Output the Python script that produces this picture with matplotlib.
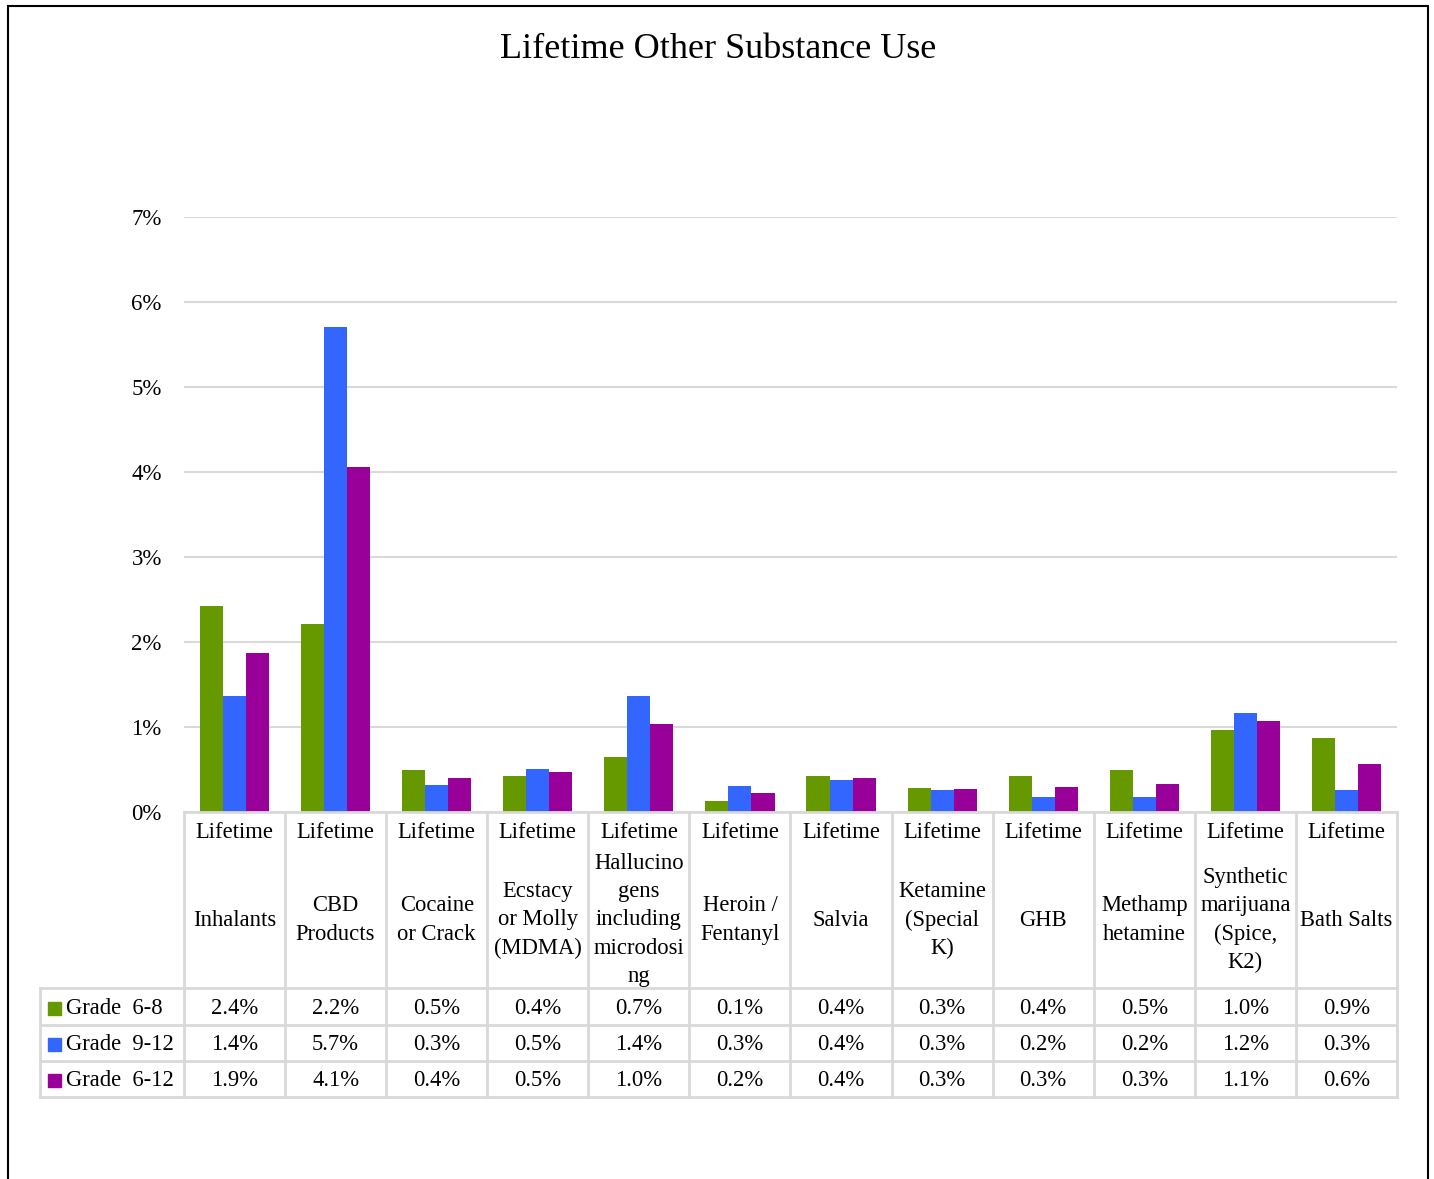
import matplotlib
matplotlib.use("Agg")
import matplotlib.pyplot as plt
from matplotlib.patches import Rectangle

plt.rcParams['font.family'] = ['Liberation Serif', 'DejaVu Serif']

title = "Lifetime Other Substance Use"
level1 = ["Lifetime"] * 12
categories = ["Inhalants", "CBD\nProducts", "Cocaine\nor Crack", "Ecstacy\nor Molly\n(MDMA)",
              "Hallucino\ngens\nincluding\nmicrodosi\nng", "Heroin /\nFentanyl", "Salvia",
              "Ketamine\n(Special\nK)", "GHB", "Methamp\nhetamine",
              "Synthetic\nmarijuana\n(Spice,\nK2)", "Bath Salts"]
series_names = ["Grade  6-8", "Grade  9-12", "Grade  6-12"]
grade_6_8 = [2.42, 2.21, 0.49, 0.42, 0.65, 0.13, 0.42, 0.28, 0.42, 0.49, 0.96, 0.87]
grade_9_12 = [1.37, 5.71, 0.32, 0.51, 1.37, 0.31, 0.38, 0.26, 0.18, 0.18, 1.17, 0.26]
grade_6_12 = [1.87, 4.06, 0.40, 0.47, 1.03, 0.22, 0.40, 0.27, 0.29, 0.33, 1.07, 0.56]
yticks = [0, 1, 2, 3, 4, 5, 6, 7]
colors = ["#669900", "#3366FF", "#990099"]

series = [grade_6_8, grade_9_12, grade_6_12]

W, H = 1434, 1179
def fx(p): return p / W
def fy(p): return 1 - p / H

fig = plt.figure(figsize=(W / 100, H / 100), dpi=100)

# main plot
ax = fig.add_axes([fx(184), fy(812), fx(1397) - fx(184), fy(217) - fy(812)])
n = len(categories)
bw = 0.228
for k, (vals, c) in enumerate(zip(series, colors)):
    xs = [i + (k - 1) * bw for i in range(n)]
    ax.bar(xs, vals, width=bw, color=c, zorder=3)
ax.set_xlim(-0.5, n - 0.5)
ax.set_ylim(0, 7)
ax.set_yticks(yticks)
ax.set_yticklabels([f"{t}%" for t in yticks], fontsize=16.5)
ax.tick_params(axis='y', length=0, pad=16)
ax.set_xticks([])
for s in ax.spines.values():
    s.set_visible(False)
ax.grid(axis='y', color='#d9d9d9', lw=1.5, zorder=0)

# data table
grid_c = '#d9d9d9'
tax = fig.add_axes([fx(184), fy(1097), fx(1397) - fx(184), fy(812) - fy(1097)])
tax.set_xlim(-0.5, n - 0.5)
tax.set_ylim(285, 0)
tax.axis('off')
col_w = (1397 - 184) / n
left = -0.5 - (184 - 40) / col_w
for i in range(n + 1):
    tax.plot([i - 0.5, i - 0.5], [0, 285], color=grid_c, lw=2, clip_on=False)
tax.plot([left, left], [176, 285], color=grid_c, lw=2, clip_on=False)
tax.plot([-0.5, n - 0.5], [0, 0], color=grid_c, lw=2, clip_on=False)
for yy in [176, 213, 249, 285]:
    tax.plot([left, n - 0.5], [yy, yy], color=grid_c, lw=2, clip_on=False)

fs = 16.3
for i in range(n):
    tax.text(i, 20, level1[i], ha='center', va='center', fontsize=fs)
    tax.text(i, 108, categories[i], ha='center', va='center', fontsize=fs, linespacing=1.45)

rows_y = [196, 232, 268]
for k, (name, vals, c) in enumerate(zip(series_names, series, colors)):
    y = rows_y[k]
    tax.add_patch(Rectangle((-0.5 - (184 - 48) / col_w, y - 6.5), 13 / col_w, 13,
                            color=c, clip_on=False))
    tax.text(-0.5 - (184 - 66) / col_w, y + 1, name, ha='left', va='center', fontsize=fs)
    for i, v in enumerate(vals):
        tax.text(i, y + 1, f"{v:.1f}%", ha='center', va='center', fontsize=fs)

fig.text(fx(718), fy(49), title, ha='center', va='center', fontsize=26)

fig.add_artist(Rectangle((fx(8), fy(1190)), fx(1428) - fx(8), fy(6) - fy(1190),
                         transform=fig.transFigure, fill=False, ec='black', lw=1.5))

fig.savefig("out.png", dpi=100)
